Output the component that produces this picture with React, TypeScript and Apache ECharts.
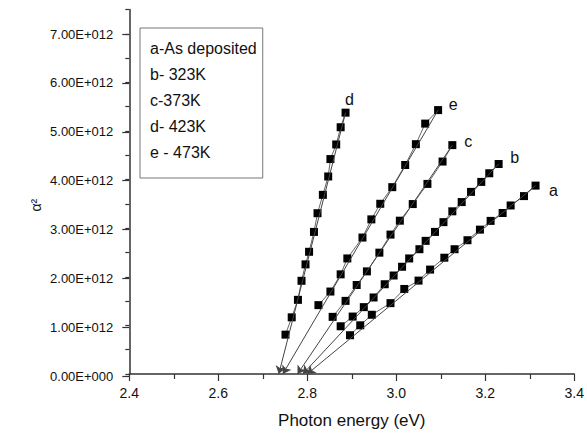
import React, { useEffect, useRef } from 'react';
import * as echarts from 'echarts';

const SCALE = 1e12;

const seriesNames = ['a-As deposited', 'b- 323K', 'c-373K', 'd- 423K', 'e - 473K'];
const curveLetters = ['a', 'b', 'c', 'd', 'e'];

// photon energy (eV) and alpha^2 (x 1e12)
const aEnergy = [2.896, 2.919, 2.945, 2.987, 3.018, 3.050, 3.076, 3.108, 3.131, 3.160, 3.188, 3.212, 3.239, 3.257, 3.287, 3.313];
const aAlpha2 = [0.798, 1.002, 1.219, 1.458, 1.750, 1.922, 2.149, 2.393, 2.568, 2.753, 2.971, 3.151, 3.313, 3.468, 3.661, 3.877];

const bEnergy = [2.875, 2.902, 2.927, 2.949, 2.974, 2.994, 3.013, 3.029, 3.052, 3.066, 3.087, 3.106, 3.126, 3.147, 3.168, 3.191, 3.209, 3.230];
const bAlpha2 = [0.982, 1.182, 1.376, 1.575, 1.847, 2.027, 2.207, 2.378, 2.568, 2.740, 2.924, 3.125, 3.348, 3.538, 3.748, 3.953, 4.131, 4.321];

const cEnergy = [2.857, 2.886, 2.911, 2.934, 2.962, 2.987, 3.008, 3.037, 3.070, 3.104, 3.126];
const cAlpha2 = [1.176, 1.505, 1.832, 2.112, 2.497, 2.869, 3.155, 3.497, 3.912, 4.372, 4.710];

const dEnergy = [2.751, 2.765, 2.779, 2.787, 2.796, 2.804, 2.815, 2.823, 2.835, 2.847, 2.852, 2.865, 2.875, 2.886];
const dAlpha2 = [0.810, 1.166, 1.526, 1.918, 2.256, 2.515, 2.924, 3.309, 3.687, 4.065, 4.423, 4.724, 5.078, 5.378];

const eEnergy = [2.825, 2.852, 2.875, 2.890, 2.924, 2.944, 2.964, 2.991, 3.020, 3.044, 3.065, 3.094];
const eAlpha2 = [1.417, 1.697, 2.051, 2.378, 2.808, 3.182, 3.503, 3.845, 4.301, 4.730, 5.153, 5.431];

// extrapolated band-gap intercepts (eV), order a..e
const intercepts = [2.800, 2.790, 2.778, 2.736, 2.745];

const energies = [aEnergy, bEnergy, cEnergy, dEnergy, eEnergy];
const alphas = [aAlpha2, bAlpha2, cAlpha2, dAlpha2, eAlpha2];

const labelOffsets = [[18, 5], [16, -7], [16, -4], [4, -13], [15, -6]];

export default function App() {
  const ref = useRef<HTMLDivElement>(null);
  useEffect(() => {
    const chart = echarts.init(ref.current!, null, { renderer: 'svg' });
    const font = 'Liberation Sans, Arial, sans-serif';
    const series = energies.map((xs, k) => {
      const ys = alphas[k];
      const data = xs.map((x, i) => {
        const item: any = { value: [x, ys[i] * SCALE] };
        if (i === xs.length - 1) {
          item.label = {
            show: true,
            formatter: curveLetters[k],
            position: 'inside',
            offset: labelOffsets[k],
            fontSize: 16,
            color: '#111',
            fontFamily: font,
          };
        }
        return item;
      });
      const last = data[data.length - 1].value;
      return {
        type: 'line',
        name: seriesNames[k],
        xAxisIndex: 0,
        yAxisIndex: 0,
        data,
        symbol: 'rect',
        symbolSize: 8,
        showSymbol: true,
        itemStyle: { color: '#000' },
        lineStyle: { color: '#666', width: 1 },
        label: { show: false },
        emphasis: { disabled: true },
        markLine: {
          silent: true,
          symbol: ['arrow', 'none'],
          symbolSize: 8,
          lineStyle: { color: '#444', width: 1, type: 'solid' },
          label: { show: false },
          emphasis: { disabled: true },
          data: [[{ coord: [intercepts[k], 0] }, { coord: last }]],
        },
        z: 3,
      };
    });

    chart.setOption({
      animation: false,
      backgroundColor: '#fff',
      textStyle: { fontFamily: font },
      legend: {
        data: seriesNames,
        orient: 'vertical',
        left: 140,
        top: 28,
        icon: 'rect',
        itemWidth: 0,
        itemHeight: 0,
        itemGap: 10,
        padding: [12, 6, 18, 5],
        borderColor: '#777',
        borderWidth: 1,
        selectedMode: false,
        textStyle: { fontSize: 16, color: '#111', fontFamily: font },
      },
      grid: [
        { left: 129.3, right: 12, top: 9.55, bottom: 57.7 },
        { left: 129.3, right: 12, top: 34.0, bottom: 57.7 },
      ],
      xAxis: [
        {
          type: 'value',
          gridIndex: 0,
          min: 2.4,
          max: 3.4,
          interval: 0.2,
          axisLine: { show: true, lineStyle: { color: '#333', width: 1.5 } },
          axisTick: { show: true, length: 7, lineStyle: { color: '#333', width: 1.2 } },
          minorTick: { show: true, splitNumber: 2, length: 5, lineStyle: { color: '#333', width: 1.2 } },
          splitLine: { show: false },
          axisLabel: {
            margin: 12,
            fontSize: 14,
            color: '#111',
            fontFamily: font,
            formatter: (v: number) => v.toFixed(1),
          },
          name: 'Photon energy (eV)',
          nameLocation: 'middle',
          nameGap: 38,
          nameMoveOverlap: false,
          nameTextStyle: { fontSize: 17, color: '#111', fontFamily: font },
        },
        {
          type: 'value',
          gridIndex: 1,
          min: 2.4,
          max: 3.4,
          show: false,
        },
      ],
      yAxis: [
        {
          type: 'value',
          gridIndex: 0,
          min: 0,
          max: 7.5 * SCALE,
          interval: 0.5 * SCALE,
          axisLine: { show: true, lineStyle: { color: '#333', width: 1.5 } },
          axisTick: { show: true, length: 4, lineStyle: { color: '#333', width: 1.2 } },
          axisLabel: { show: false },
          splitLine: { show: false },
        },
        {
          type: 'value',
          gridIndex: 1,
          min: 0,
          max: 7 * SCALE,
          interval: 1 * SCALE,
          axisLine: { show: false },
          axisTick: { show: true, length: 7, lineStyle: { color: '#333', width: 1.2 } },
          splitLine: { show: false },
          axisLabel: {
            margin: 16,
            fontSize: 13,
            color: '#111',
            fontFamily: font,
            formatter: (v: number) => (v === 0 ? '0.00E+000' : (v / SCALE).toFixed(2) + 'E+012'),
          },
          name: 'α²',
          nameLocation: 'middle',
          nameGap: 86,
          nameMoveOverlap: false,
          nameRotate: 90,
          nameTextStyle: { fontSize: 14, color: '#111', fontFamily: font },
        },
      ],
      series,
    });
    return () => chart.dispose();
  }, []);
  return (
    <div
      ref={ref}
      style={{ position: 'fixed', left: 0, top: 0, width: 587, height: 434, background: '#fff' }}
    />
  );
}
